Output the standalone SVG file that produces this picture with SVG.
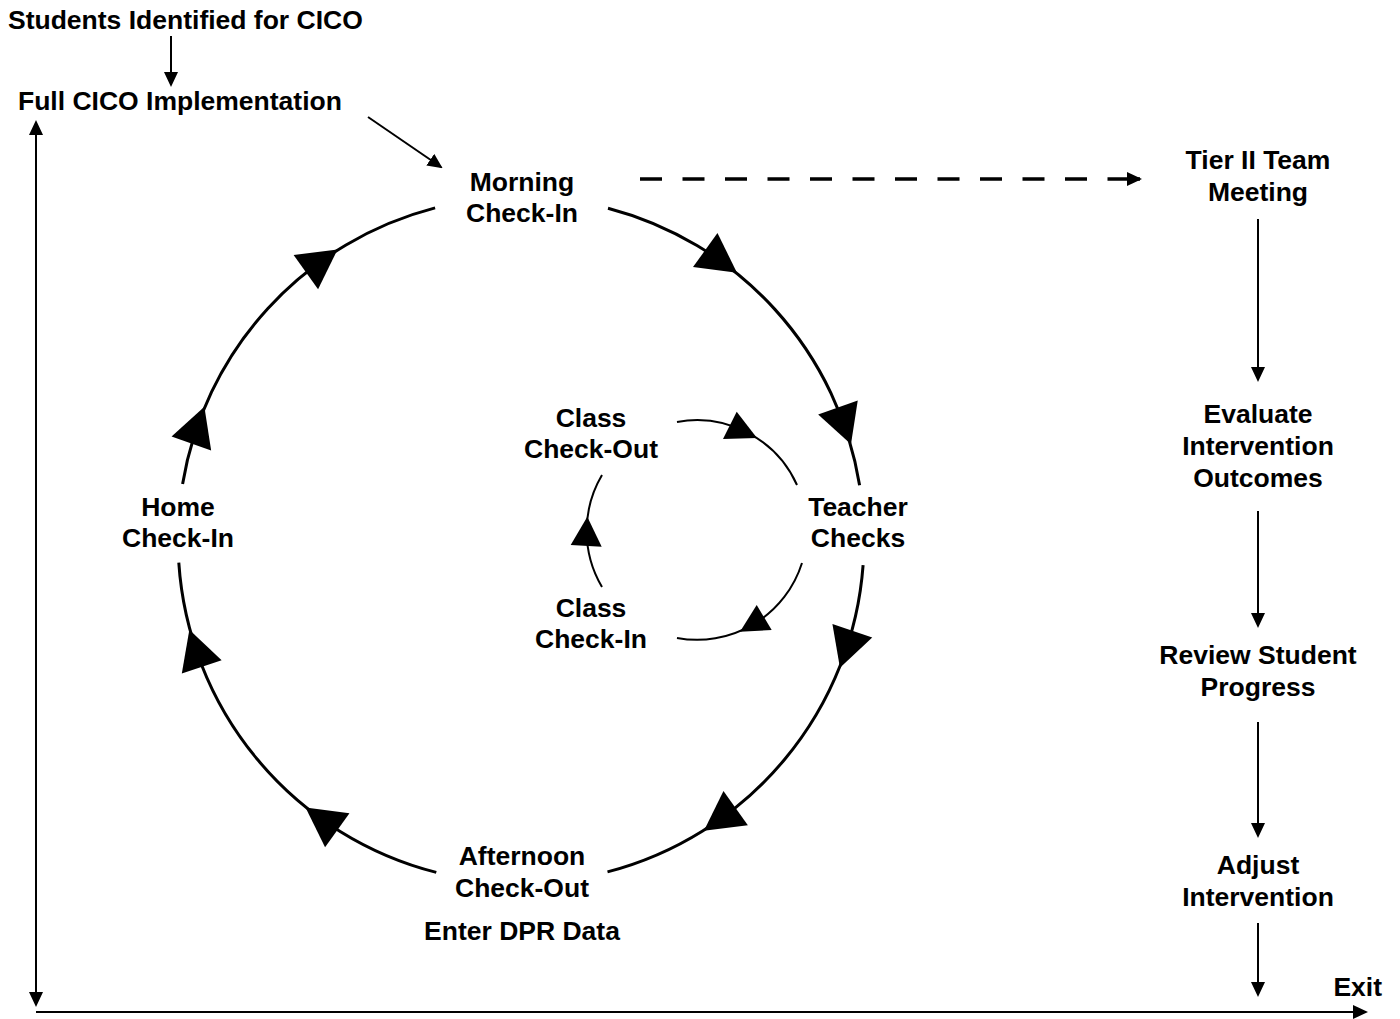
<svg xmlns="http://www.w3.org/2000/svg" xmlns:xlink="http://www.w3.org/1999/xlink" width="1400" height="1019" viewBox="0 0 1400 1019">
<style>
text{font-family:"Liberation Sans",Arial,sans-serif;font-weight:bold;font-size:26.5px;fill:#000;text-anchor:middle}
.big{fill:none;stroke:#000;stroke-width:3}
.inner{fill:none;stroke:#000;stroke-width:2}
.ln{fill:none;stroke:#000;stroke-width:2}
.dash{fill:none;stroke:#000;stroke-width:3.5;stroke-dasharray:22 20.5}
</style>
<defs>
<marker id="ah" viewBox="0 0 15 14" refX="13" refY="7" markerWidth="15" markerHeight="14" markerUnits="userSpaceOnUse" orient="auto-start-reverse">
<path d="M0,0 L15,7 L0,14 Z" fill="#000"/>
</marker>
<path id="tri" d="M20,0 L-19,-21 L-19,21 Z" fill="#000"/>
</defs>
<rect width="1400" height="1019" fill="#fff"/>

<g id="connectors">
<line class="ln" x1="36" y1="122" x2="36" y2="1005" marker-start="url(#ah)" marker-end="url(#ah)"/>
<line class="ln" x1="36" y1="1012" x2="1366" y2="1012" marker-end="url(#ah)"/>
<line class="ln" x1="171" y1="36" x2="171" y2="85" marker-end="url(#ah)"/>
<line class="ln" x1="368" y1="117" x2="441" y2="167" marker-end="url(#ah)"/>
<line class="dash" x1="640" y1="179" x2="1138" y2="179"/>
<line class="ln" x1="1128" y1="179" x2="1140" y2="179" marker-end="url(#ah)" style="stroke-width:3.5"/>
<line class="ln" x1="1258" y1="219" x2="1258" y2="380" marker-end="url(#ah)"/>
<line class="ln" x1="1258" y1="511" x2="1258" y2="626" marker-end="url(#ah)"/>
<line class="ln" x1="1258" y1="722" x2="1258" y2="836" marker-end="url(#ah)"/>
<line class="ln" x1="1258" y1="923" x2="1258" y2="995" marker-end="url(#ah)"/>
<path class="big" d="M608,208.2 A343,343 0 0 1 859.6,485.2"/>
<path class="big" d="M863.1,565.1 A343,343 0 0 1 607.5,871.9"/>
<path class="big" d="M436.3,872.4 A343,343 0 0 1 178.8,562.7"/>
<path class="big" d="M182.6,484 A343,343 0 0 1 435.1,207.9"/>
<use xlink:href="#tri" transform="translate(720.7,261.1) rotate(35.6)"/>
<use xlink:href="#tri" transform="translate(844.3,425.5) rotate(70.5)"/>
<use xlink:href="#tri" transform="translate(846.3,648.8) rotate(108.5)"/>
<use xlink:href="#tri" transform="translate(720.2,819.2) rotate(144.5)"/>
<use xlink:href="#tri" transform="translate(321.8,819.2) rotate(215.5)"/>
<use xlink:href="#tri" transform="translate(195.7,648.8) rotate(251.5)"/>
<use xlink:href="#tri" transform="translate(197.7,425.5) rotate(289.5)"/>
<use xlink:href="#tri" transform="translate(321.3,261.1) rotate(324.4)"/>
<path class="inner" d="M677,422 A110,110 0 0 1 797,485"/>
<path class="inner" d="M602,587 A110,110 0 0 1 602,475"/>
<path class="inner" d="M802,563 A110,110 0 0 1 677,638"/>
<polygon points="736.7,411.7 723,439 757,438" fill="#000"/>
<polygon points="756.7,605 740,631.7 771.7,630" fill="#000"/>
<polygon points="587.3,516.7 570.7,545 601.7,546.7" fill="#000"/>
</g>

<g id="students"><text x="8" y="29" style="text-anchor:start">Students Identified for CICO</text></g>
<g id="full-cico"><text x="18" y="110" style="text-anchor:start">Full CICO Implementation</text></g>
<g id="morning"><text x="522" y="191">Morning</text><text x="522" y="222">Check-In</text></g>
<g id="tier2"><text x="1258" y="169">Tier II Team</text><text x="1258" y="201">Meeting</text></g>
<g id="class-out"><text x="591" y="427">Class</text><text x="591" y="458">Check-Out</text></g>
<g id="home"><text x="178" y="516">Home</text><text x="178" y="547">Check-In</text></g>
<g id="teacher"><text x="858" y="516">Teacher</text><text x="858" y="547">Checks</text></g>
<g id="evaluate"><text x="1258" y="423">Evaluate</text><text x="1258" y="455">Intervention</text><text x="1258" y="487">Outcomes</text></g>
<g id="class-in"><text x="591" y="617">Class</text><text x="591" y="648">Check-In</text></g>
<g id="review"><text x="1258" y="664">Review Student</text><text x="1258" y="696">Progress</text></g>
<g id="afternoon"><text x="522" y="865">Afternoon</text><text x="522" y="897">Check-Out</text><text x="522" y="940">Enter DPR Data</text></g>
<g id="adjust"><text x="1258" y="874">Adjust</text><text x="1258" y="906">Intervention</text></g>
<g id="exit"><text x="1382" y="996" style="text-anchor:end">Exit</text></g>
</svg>
